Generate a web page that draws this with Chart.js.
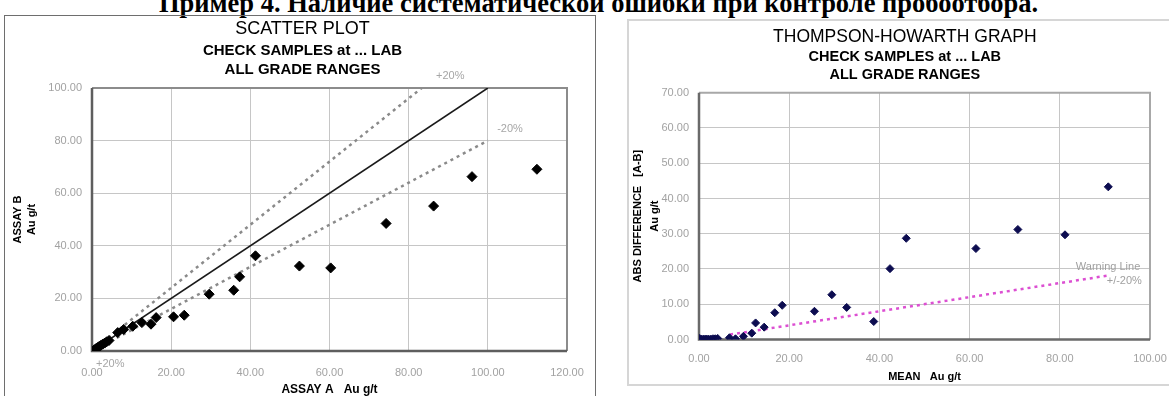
<!DOCTYPE html>
<html>
<head>
<meta charset="utf-8">
<script src="https://cdn.jsdelivr.net/npm/chart.js@4.4.1/dist/chart.umd.min.js"></script>
<style>
  body { margin: 0; width: 1169px; height: 396px; overflow: hidden; background: #fff; position: relative; }
  #caption { position: absolute; left: 14px; width: 1169px; top: -10px; text-align: center; white-space: nowrap;
             font: bold 26.5px/26px 'Liberation Serif', 'Times New Roman', serif; color: #000; }
  #boxA { position: absolute; left: 4px; top: 15px; width: 592px; height: 400px; border: 1px solid #6e6e6e; box-sizing: border-box; }
  #boxB { position: absolute; left: 627px; top: 19px; width: 560px; height: 367px; border: 2px solid #d6d6d6; box-sizing: border-box; }
  #scatterA { position: absolute; left: 5px; top: 18px; }
  #thompson { position: absolute; left: 629px; top: 19px; }
</style>
</head>
<body>
<div id="caption">Пример 4. Наличие систематической ошибки при контроле пробоотбора.</div>
<div id="boxA"></div>
<div id="boxB"></div>
<canvas id="scatterA" width="590" height="378"></canvas>
<canvas id="thompson" width="540" height="366"></canvas>
<script>
// Левый график: ASSAY A против ASSAY B
const assayA = [0.3, 0.6, 1.0, 1.4, 1.8, 2.2, 2.7, 3.2, 3.7, 4.3, 6.5, 8.0, 10.3, 12.6, 14.9, 16.2, 20.6, 23.3, 29.6, 35.8, 37.3, 41.3, 52.4, 60.3, 74.3, 86.3, 96.0, 112.4];
const assayB = [0.0, 0.5, 0.9, 1.3, 1.7, 2.1, 2.6, 3.0, 3.5, 4.0, 7.0, 8.2, 9.4, 10.8, 10.2, 12.7, 13.0, 13.6, 21.6, 23.1, 28.2, 36.2, 32.3, 31.6, 48.5, 55.1, 66.3, 69.1];
// линии 1:1 и +/-20%
const equalX = [0, 100];
const equalY = [0, 100];
const plusX = [0, 83.3];
const plusY = [0, 100];
const minusX = [0, 100];
const minusY = [0, 80];
const ticksA_X = [0, 20, 40, 60, 80, 100, 120];
const ticksA_Y = [0, 20, 40, 60, 80, 100];

// Правый график: Thompson-Howarth
const meanAu = [0.15, 0.55, 0.95, 1.35, 1.75, 2.15, 2.65, 3.1, 3.6, 4.15, 6.75, 8.1, 9.85, 11.7, 12.55, 14.45, 16.8, 18.45, 25.6, 29.45, 32.75, 38.75, 42.35, 45.95, 61.4, 70.7, 81.15, 90.75];
const absDiff = [0.3, 0.1, 0.1, 0.1, 0.1, 0.1, 0.1, 0.2, 0.2, 0.3, 0.5, 0.2, 0.9, 1.8, 4.7, 3.5, 7.6, 9.7, 8.0, 12.7, 9.1, 5.1, 20.1, 28.7, 25.8, 31.2, 29.7, 43.3];
const warnX = [6.9, 91];
const warnY = [1.4, 18.2];
const ticksB_X = [0, 20, 40, 60, 80, 100];
const ticksB_Y = [0, 10, 20, 30, 40, 50, 60, 70];

const FONT = "'Liberation Sans', Arial, sans-serif";

function points(xs, ys) {
    return xs.map((x, i) => ({ x: x, y: ys[i] }));
}

// рамка области построения
const plotFrame = {
    id: 'plotFrame',
    beforeDatasetsDraw(chart, args, opts) {
        const { ctx, chartArea: a } = chart;
        ctx.save();
        ctx.lineWidth = 2;
        ctx.strokeStyle = opts.light;
        ctx.beginPath();
        ctx.moveTo(a.left, a.top); ctx.lineTo(a.right, a.top); ctx.lineTo(a.right, a.bottom);
        ctx.stroke();
        ctx.lineWidth = 2.5;
        ctx.strokeStyle = opts.dark;
        ctx.beginPath();
        ctx.moveTo(a.left, a.top); ctx.lineTo(a.left, a.bottom); ctx.lineTo(a.right, a.bottom);
        ctx.stroke();
        ctx.restore();
    }
};

// подписи линий (+20%, Warning Line ...)
const notes = {
    id: 'notes',
    afterDatasetsDraw(chart, args, opts) {
        const { ctx } = chart;
        const xs = chart.scales.x, ys = chart.scales.y;
        ctx.save();
        ctx.font = opts.size + 'px ' + FONT;
        ctx.fillStyle = opts.color;
        ctx.textAlign = 'center';
        ctx.textBaseline = 'middle';
        (opts.items || []).forEach(n => {
            ctx.fillText(n.text, xs.getPixelForValue(n.x), ys.getPixelForValue(n.y));
        });
        ctx.restore();
    }
};

function axis(min, max, values, fixedSize, isX, title) {
    return {
        type: 'linear',
        min: min,
        max: max,
        afterBuildTicks: s => { s.ticks = values.map(v => ({ value: v })); },
        afterFit: s => {
            if (isX) s.height = fixedSize; else s.width = fixedSize;
            // подписи крайних делений не должны сжимать область построения
            s.paddingLeft = s.paddingRight = s.paddingTop = s.paddingBottom = 0;
        },
        grid: { color: '#c6c6c6', lineWidth: 1, drawTicks: false },
        border: { display: false },
        ticks: {
            padding: isX ? title.tickPad : 10,
            color: '#a2a2a2',
            font: { family: FONT, size: 11 },
            callback: v => Number(v).toFixed(2)
        },
        title: title.cfg
    };
}

new Chart(document.getElementById('scatterA'), {
    type: 'scatter',
    data: {
        datasets: [
            { data: points(assayA, assayB), pointStyle: 'rectRot', pointRadius: 5, borderWidth: 1,
              backgroundColor: '#000', borderColor: '#000', order: 0 },
            { type: 'line', showLine: true, data: points(equalX, equalY), borderColor: '#1a1a1a',
              borderWidth: 1.6, pointRadius: 0, fill: false, order: 1 },
            { type: 'line', showLine: true, data: points(plusX, plusY), borderColor: '#8a8a8a',
              borderWidth: 2.5, borderDash: [3, 4], pointRadius: 0, fill: false, order: 1 },
            { type: 'line', showLine: true, data: points(minusX, minusY), borderColor: '#8a8a8a',
              borderWidth: 2.5, borderDash: [3, 4], pointRadius: 0, fill: false, order: 1 }
        ]
    },
    options: {
        responsive: false,
        animation: false,
        layout: { padding: { left: 33, right: 28, top: 0, bottom: 0 } },
        plugins: {
            legend: { display: false },
            tooltip: { enabled: false },
            title: { display: true, text: 'SCATTER PLOT', color: '#000',
                     font: { family: FONT, size: 18, weight: 'normal', lineHeight: 1.2 },
                     padding: { top: 0.2, bottom: 0.6 } },
            subtitle: { display: true, text: ['CHECK SAMPLES at ... LAB', 'ALL GRADE RANGES'], color: '#000',
                        font: { family: FONT, size: 15, weight: 'bold', lineHeight: 1.287 },
                        padding: { top: 0.6, bottom: 8.4 } },
            plotFrame: { light: '#8c8c8c', dark: '#5e5e5e' },
            notes: { size: 11, color: '#a6a6a6', items: [
                { x: 90.5, y: 104.6, text: '+20%' },
                { x: 105.6, y: 84.5, text: '-20%' },
                { x: 4.6, y: -5, text: '+20%' }
            ] }
        },
        scales: {
            x: axis(0, 120, ticksA_X, 45, true, { tickPad: 15, cfg: {
                display: true, text: 'ASSAY A   Au g/t', color: '#000',
                font: { family: FONT, size: 12, weight: 'bold', lineHeight: 1 },
                padding: { top: 0, bottom: 0 } } }),
            y: axis(0, 100, ticksA_Y, 54, false, { cfg: {
                display: true, text: ['ASSAY B', 'Au g/t'], color: '#000',
                font: { family: FONT, size: 11, weight: 'bold', lineHeight: 1.32 },
                padding: { top: -27.75, bottom: 0 } } })
        }
    },
    plugins: [plotFrame, notes]
});

new Chart(document.getElementById('thompson'), {
    type: 'scatter',
    data: {
        datasets: [
            { data: points(meanAu, absDiff), pointStyle: 'rectRot', pointRadius: 4, borderWidth: 1,
              backgroundColor: '#0c0c50', borderColor: '#0c0c50', order: 0 },
            { type: 'line', showLine: true, data: points(warnX, warnY), borderColor: '#dc4fd2',
              borderWidth: 2.5, borderDash: [3, 4], pointRadius: 0, fill: false, order: 1 }
        ]
    },
    options: {
        responsive: false,
        animation: false,
        layout: { padding: { left: 30.6, right: 19, top: 0, bottom: 0 } },
        plugins: {
            legend: { display: false },
            tooltip: { enabled: false },
            title: { display: true, text: 'THOMPSON-HOWARTH GRAPH', color: '#000',
                     font: { family: FONT, size: 17.5, weight: 'normal', lineHeight: 1.2 },
                     padding: { top: 7.2, bottom: 0.2 } },
            subtitle: { display: true, text: ['CHECK SAMPLES at ... LAB', 'ALL GRADE RANGES'], color: '#000',
                        font: { family: FONT, size: 14.5, weight: 'bold', lineHeight: 1.262 },
                        padding: { top: 0.15, bottom: 8.55 } },
            plotFrame: { light: '#a8a8a8', dark: '#6a6a6a' },
            notes: { size: 11, color: '#a0a0a0', items: [
                { x: 90.7, y: 20.7, text: 'Warning Line' },
                { x: 94.3, y: 16.5, text: '+/-20%' }
            ] }
        },
        scales: {
            x: axis(0, 100, ticksB_X, 45.5, true, { tickPad: 13, cfg: {
                display: true, text: 'MEAN   Au g/t', color: '#000',
                font: { family: FONT, size: 11, weight: 'bold', lineHeight: 1.2 },
                padding: { top: 0, bottom: 1.7 } } }),
            y: axis(0, 70, ticksB_Y, 39.4, false, { cfg: {
                display: true, text: ['ABS DIFFERENCE   [A-B]', 'Au g/t'], color: '#000',
                font: { family: FONT, size: 11, weight: 'bold', lineHeight: 1.55 },
                padding: { top: -30.1, bottom: 0 } } })
        }
    },
    plugins: [plotFrame, notes]
});
</script>
</body>
</html>
